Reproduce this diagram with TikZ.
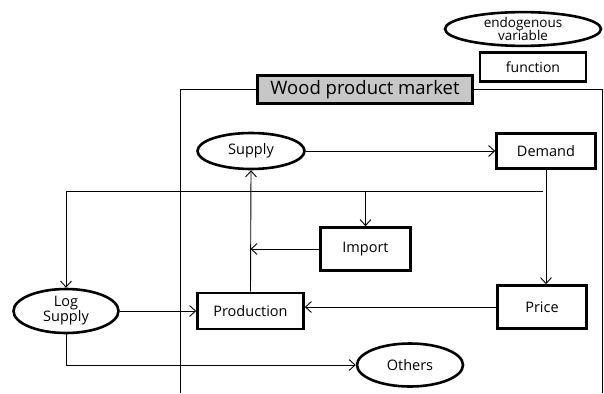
\documentclass[tikz,border=0pt]{standalone}
\usepackage{fontspec}
\setmainfont{Open Sans}
\usetikzlibrary{shapes.geometric,arrows.meta}
\tikzset{
  fbox/.style={draw, line width=2.6pt, rectangle, inner sep=0pt, font=\fontsize{14.5}{16}\selectfont},
  vell/.style={draw, line width=2.6pt, ellipse, inner sep=0pt, align=center, font=\fontsize{14.5}{16}\selectfont},
  conn/.style={line width=0.9pt, -{Straight Barb[length=6pt,width=11pt]}},
  plain/.style={line width=0.9pt},
}
\begin{document}
\begin{tikzpicture}[x=1pt,y=-1pt]
\useasboundingbox (0,0) rectangle (604,393);
% frame
\draw[plain] (180,393) -- (180,89) -- (602,89) -- (602,393);
% legend
\node[vell, minimum width=156pt, minimum height=32pt, font=\fontsize{13.5}{13}\selectfont] (endo) at (523,29) {endogenous\\[-1pt]variable};
\node[fbox, minimum width=106pt, minimum height=29pt, font=\fontsize{14}{15}\selectfont] (func) at (533,67) {function};
\node[fbox, fill=black!22, minimum width=215pt, minimum height=28pt, font=\fontsize{18.5}{20}\selectfont] (wpm) at (365,89.5) {Wood product market};
% nodes
\node[vell, minimum width=107pt, minimum height=36pt] (supply) at (251,151) {Supply};
\node[fbox, minimum width=99pt, minimum height=35pt] (demand) at (546,151) {Demand};
\node[fbox, minimum width=90pt, minimum height=43pt] (imp) at (365.5,249) {Import};
\node[fbox, minimum width=106pt, minimum height=36pt] (prod) at (250.5,311) {Production};
\node[fbox, minimum width=89pt, minimum height=43pt] (price) at (542,307) {Price};
\node[vell, minimum width=105pt, minimum height=44pt, font=\fontsize{14.5}{15}\selectfont] (logs) at (66,311) {Log\\Supply};
\node[vell, minimum width=106pt, minimum height=43pt] (others) at (410,365) {Others};
\coordinate (h1) at (543,191);
% connectors
\draw[conn] (supply) -- (demand);
\draw[conn] (demand.south) -- (demand.south |- price.north);
\draw[conn] (h1) -| (logs.north);
\draw[conn] (imp.north |- h1) -- (imp.north);
\draw[conn] (prod.north) -- (supply.south);
\draw[conn] (imp.west) -- (imp.west -| prod.north);
\draw[conn] (logs.east) -- (prod.west);
\draw[conn] (price.west) -- (price.west -| prod.east);
\draw[conn] (logs.south) |- (others.west);
\end{tikzpicture}
\end{document}
